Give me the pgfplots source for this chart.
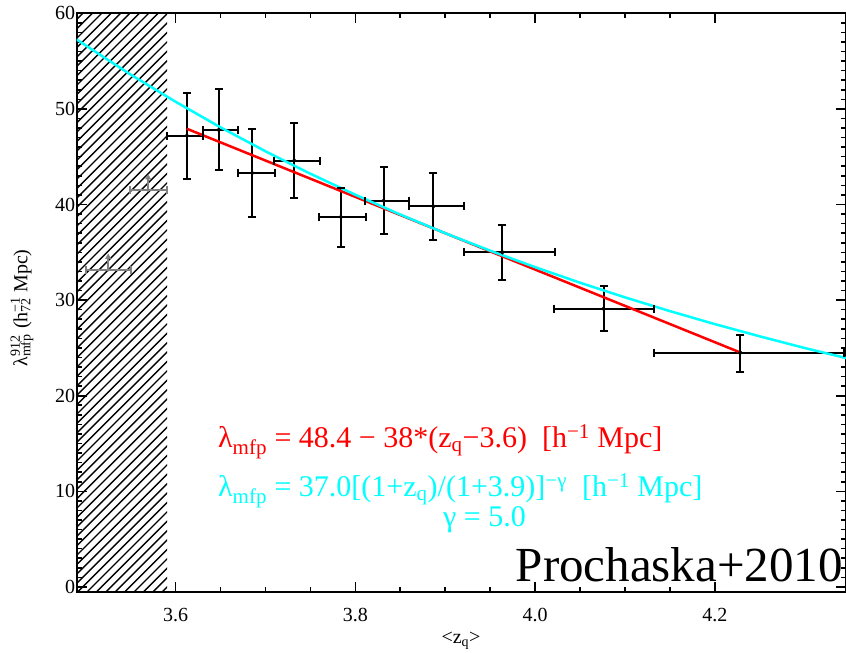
\documentclass[border=0pt]{standalone}
\usepackage{fontspec}
\setmainfont{Liberation Serif}
\usepackage{pgfplots}
\pgfplotsset{compat=1.18}
\usepackage{pgfplotstable}
\definecolor{cyn}{RGB}{0,255,255}
\definecolor{rd}{RGB}{255,0,0}
\definecolor{gr}{RGB}{128,128,128}

\pgfplotstableread{
x      y    xm     xp     ym   yp
3.6126 47.2 0.022  0.018  4.5  4.5
3.6479 47.8 0.017  0.022  4.2  4.3
3.6853 43.3 0.016  0.025  4.6  4.6
3.7320 44.6 0.022  0.029  3.9  3.9
3.7840 38.7 0.024  0.028  3.1  3.0
3.8316 40.4 0.021  0.028  3.5  3.5
3.8869 39.8 0.027  0.034  3.5  3.5
3.9637 35.0 0.043  0.058  2.9  2.9
4.0762 29.1 0.055  0.056  2.3  2.4
4.2284 24.5 0.096  0.115  2.0  1.9
}\mfpdata

\pgfplotstableread{
x      y    xm     xp     yp
3.5695 41.5 0.0205 0.0205 1.3
3.5250 33.2 0.025  0.025  1.3
}\limdata

\begin{document}
\begin{tikzpicture}[x=1pt,y=1pt]
\useasboundingbox (0,0) rectangle (846,653);
\begin{scope}
\clip (76.7,61.3) rectangle (167,639.7);
\foreach \k in {0,...,80} {\draw[line width=1.4pt] (60,{-60+9.4*\k}) -- ++(160,160);}
\end{scope}
\begin{axis}[
  at={(76.7pt,61.3pt)}, anchor=south west,
  scale only axis, width=769.3pt, height=578.4pt,
  xmin=3.49, xmax=4.346, ymin=-0.5, ymax=60,
  xtick={3.6,3.8,4.0,4.2}, ytick={0,10,20,30,40,50,60},
  minor x tick num=3, minor y tick num=9,
  tick align=inside, major tick length=10pt, minor tick length=5pt,
  axis line style={line width=2pt},
  every tick/.style={black, line width=1.6pt},
  tick label style={font=\fontsize{20}{24}\selectfont},
  /pgf/number format/assume math mode=true,
  x tick label style={/pgf/number format/.cd, fixed, fixed zerofill, precision=1, /tikz/.cd, yshift=-13pt},
  y tick label style={xshift=2pt},
  clip=true,
  capy/.style={only marks, mark=-, mark size=4pt, line width=2pt},
  capx/.style={only marks, mark=|, mark size=4pt, line width=2pt},
]
\addplot[black, line width=2pt, only marks, mark=*, mark size=1pt,
  error bars/.cd, x dir=both, y dir=both, x explicit, y explicit,
  error mark=none,
  error bar style={line width=2pt, black}]
  table[x=x, y=y, x error plus=xp, x error minus=xm, y error plus=yp, y error minus=ym] {\mfpdata};
% error-bar caps
\addplot[black, capy] table[x=x, y expr=\thisrow{y}+\thisrow{yp}] {\mfpdata};
\addplot[black, capy] table[x=x, y expr=\thisrow{y}-\thisrow{ym}] {\mfpdata};
\addplot[black, capx] table[x expr=\thisrow{x}+\thisrow{xp}, y=y] {\mfpdata};
\addplot[black, capx] table[x expr=\thisrow{x}-\thisrow{xm}, y=y] {\mfpdata};

\addplot[gr, line width=2pt, only marks, mark=*, mark size=0.5pt,
  error bars/.cd, x dir=both, x explicit, error mark=none,
  error bar style={line width=2pt, gr}]
  table[x=x, y=y, x error plus=xp, x error minus=xm] {\limdata};
\addplot[gr, capx] table[x expr=\thisrow{x}+\thisrow{xp}, y=y] {\limdata};
\addplot[gr, capx] table[x expr=\thisrow{x}-\thisrow{xm}, y=y] {\limdata};
\addplot[gr, line width=2pt, only marks, mark=*, mark size=0.5pt,
  error bars/.cd, y dir=plus, y explicit, error mark=none,
  error bar style={line width=2pt, gr}]
  table[x=x, y=y, y error plus=yp] {\limdata};
\addplot[gr, only marks, mark=triangle*, mark size=3pt] table[x=x, y expr=\thisrow{y}+\thisrow{yp}] {\limdata};

\addplot[rd, line width=2.5pt] coordinates {(3.6126,47.92) (4.2284,24.52)};

\addplot[cyn, line width=2.5pt] coordinates {
(3.49,57.27) (3.50,56.64) (3.55,53.59) (3.60,50.75) (3.65,48.07) (3.70,45.57)
(3.75,43.22) (3.80,41.02) (3.85,38.95) (3.90,37.00) (3.95,35.17) (4.00,33.45)
(4.05,31.82) (4.10,30.29) (4.15,28.85) (4.20,27.49) (4.25,26.21) (4.30,24.99)
(4.35,23.85)};
\end{axis}

\node[anchor=base west, inner sep=0, text=rd] at (218,205)
  {\fontsize{30}{35}\selectfont λ\textsubscript{mfp} = 48.4 − 38*(z\textsubscript{q}−3.6)\ \ [h\textsuperscript{−1} Mpc]};
\node[anchor=base west, inner sep=0, text=cyn] at (218,156)
  {\fontsize{30}{35}\selectfont λ\textsubscript{mfp} = 37.0[(1+z\textsubscript{q})/(1+3.9)]\textsuperscript{−γ}\ \ [h\textsuperscript{−1} Mpc]};
\node[anchor=base west, inner sep=0, text=cyn] at (443,126)
  {\fontsize{30}{35}\selectfont γ = 5.0};
\node[anchor=base east, inner sep=0] at (843,71.3)
  {\fontsize{49}{57}\selectfont Prochaska+2010};
\node[rotate=90] at (22,345)
  {\fontsize{20}{24}\selectfont λ\rlap{\textsuperscript{912}}\textsubscript{mfp} (h\rlap{\textsuperscript{−1}}\textsubscript{72} Mpc)};
\node at (461,12) {\fontsize{20}{24}\selectfont <z\textsubscript{q}>};
\end{tikzpicture}
\end{document}
